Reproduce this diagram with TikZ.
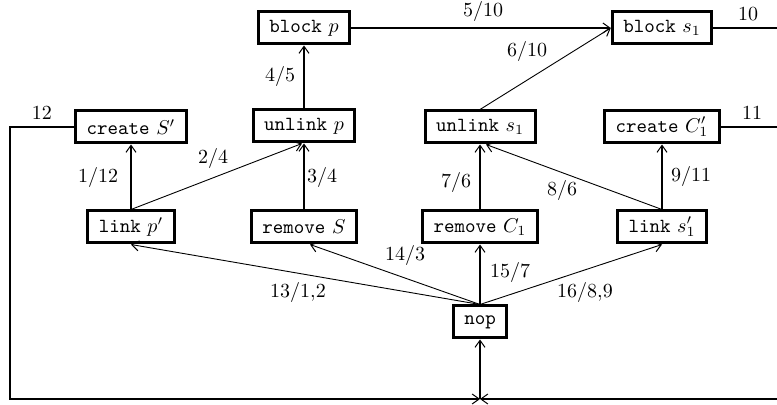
\documentclass[tikz,border=0pt]{standalone}
\usetikzlibrary{arrows.meta}
\begin{document}
\begin{tikzpicture}[x=0.5pt,y=-0.5pt,
  box/.style={draw,line width=1.5pt,inner xsep=5.5pt,inner ysep=3pt,minimum height=16pt,fill=white},
  tip/.style={-{Straight Barb[length=3.5pt,width=5pt,line width=0.5pt]}},
  heavy/.style={tip,line width=1pt},
  light/.style={tip,line width=0.45pt},
  plain/.style={line width=1pt},
  lbl/.style={inner sep=0pt}]
\useasboundingbox (0,0) rectangle (777,405);

% operation boxes
\node[box] (bp)  at (304,28)  {\texttt{block} $p$};
\node[box] (bs)  at (662,28)  {\texttt{block} $s_1$};
\node[box] (cs)  at (131,127) {\texttt{create} $S'$};
\node[box] (up)  at (304,126) {\texttt{unlink} $p$};
\node[box] (us)  at (480,127) {\texttt{unlink} $s_1$};
\node[box] (cc)  at (662,127) {\texttt{create} $C'_1$};
\node[box] (lp)  at (131,227) {\texttt{link} $p'$};
\node[box] (rs)  at (304,227) {\texttt{remove} $S$};
\node[box] (rc)  at (480,227) {\texttt{remove} $C_1$};
\node[box] (ls)  at (662,227) {\texttt{link} $s'_1$};
\node[box] (nop) at (480,322) {\texttt{nop}};

% loop corners
\coordinate (tl) at (10,127);
\coordinate (bl) at (10,399);
\coordinate (bm) at (480,399);
\coordinate (br) at (777,399);
\coordinate (rx) at (777,0);

% transitions
\draw[heavy] (lp.north) -- (cs.south);
\draw[light] (lp.north) -- ([xshift=-1pt]up.south);
\draw[heavy] (rs.north) -- (up.south);
\draw[heavy] (up.north) -- (bp.south);
\draw[heavy] (bp.east) -- (bs.west);
\draw[light] (us.north) -- (bs.west);
\draw[heavy] (rc.north) -- (us.south);
\draw[light] (ls.north) -- ([xshift=3pt]us.south);
\draw[heavy] (ls.north) -- (cc.south);
\draw[light] (nop.north) -- (lp.south);
\draw[light] (nop.north) -- ([xshift=3pt]rs.south);
\draw[heavy] (nop.north) -- (rc.south);
\draw[light] (nop.north) -- (ls.south);

% outer loops
\draw[plain] (bs.east) -- (bs.east -| rx);
\draw[plain] (cc.east) -- (cc.east -| rx);
\draw[tip,line width=1pt] (cs.west) -- (tl) -- (bl) -- (bm);
\draw[tip,line width=1pt] (br) -- (bm);
\draw[heavy] (bm) -- (nop.south);

% labels
\node[lbl] (l12a) at (42,113)  {$12$};
\node[lbl] (l10a) at (748,14)  {$10$};
\node[lbl] (l11a) at (752,113) {$11$};
\node[lbl] (t1)  at (98,178)   {$1/12$};
\node[lbl] (t2)  at (213,159)  {$2/4$};
\node[lbl] (t3)  at (322,178)  {$3/4$};
\node[lbl] (t4)  at (280,77)   {$4/5$};
\node[lbl] (t5)  at (483,12)   {$5/10$};
\node[lbl] (t6)  at (527,52)   {$6/10$};
\node[lbl] (t7)  at (456,183)  {$7/6$};
\node[lbl] (t8)  at (562,191)  {$8/6$};
\node[lbl] (t9)  at (691,177)  {$9/11$};
\node[lbl] (t13) at (298,293)  {$13/1{,}2$};
\node[lbl] (t14) at (405,256)  {$14/3$};
\node[lbl] (t15) at (510,273)  {$15/7$};
\node[lbl] (t16) at (585,293)  {$16/8{,}9$};
\end{tikzpicture}
\end{document}
